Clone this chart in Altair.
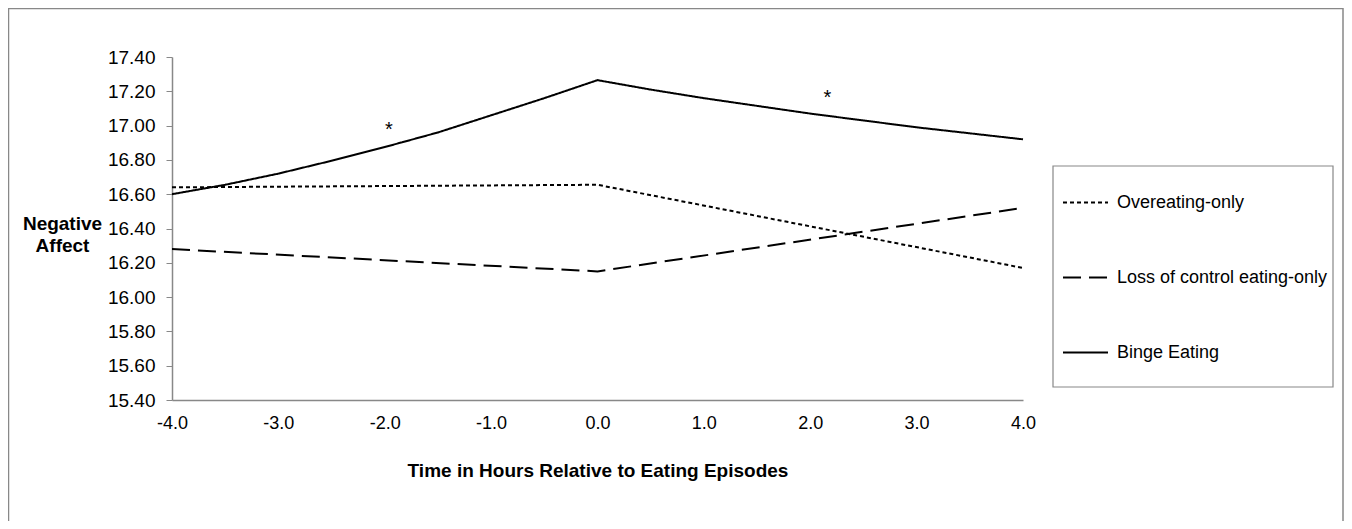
import altair as alt
import pandas as pd

# ---- data ----
series_names = ["Overeating-only", "Loss of control eating-only", "Binge Eating"]

over_hours = [-4.0, 0.0, 4.0]
over_vals = [16.64, 16.655, 16.17]

loc_hours = [-4.0, 0.0, 4.0]
loc_vals = [16.28, 16.15, 16.52]

binge_hours = [-4.0, -3.5, -3.0, -2.5, -2.0, -1.5, -1.0, -0.5, 0.0,
               0.5, 1.0, 1.5, 2.0, 2.5, 3.0, 3.5, 4.0]
binge_vals = [16.60, 16.655, 16.72, 16.795, 16.875, 16.96, 17.06, 17.16, 17.265,
              17.21, 17.16, 17.115, 17.07, 17.03, 16.99, 16.955, 16.92]

star_hours = [-1.96, 2.16]
star_vals = [16.99, 17.18]
star_text = ["*", "*"]

x_ticks = [-4.0, -3.0, -2.0, -1.0, 0.0, 1.0, 2.0, 3.0, 4.0]
y_ticks = [15.4, 15.6, 15.8, 16.0, 16.2, 16.4, 16.6, 16.8, 17.0, 17.2, 17.4]

rows = []
for h, v in zip(over_hours, over_vals):
    rows.append({"hour": h, "value": v, "group": series_names[0]})
for h, v in zip(loc_hours, loc_vals):
    rows.append({"hour": h, "value": v, "group": series_names[1]})
for h, v in zip(binge_hours, binge_vals):
    rows.append({"hour": h, "value": v, "group": series_names[2]})
df = pd.DataFrame(rows)

stars = pd.DataFrame({"hour": star_hours, "value": star_vals, "t": star_text})

FONT = "Liberation Sans"
GREY = "#888888"

x_scale = alt.Scale(domain=[-4, 4], nice=False, zero=False)
y_scale = alt.Scale(domain=[15.4, 17.4], nice=False, zero=False)

x_label_expr = "datum.value < 0 ? '-' + format(-datum.value, '.1f') : format(datum.value, '.1f')"

x_axis = alt.Axis(values=x_ticks, labelExpr=x_label_expr,
                  title="Time in Hours Relative to Eating Episodes",
                  ticks=False, grid=False, domainColor=GREY, domainWidth=1.5,
                  labelFont=FONT, labelFontSize=18, labelColor="black",
                  labelPadding=14, labelFlush=False, labelOverlap=False,
                  titleFont=FONT, titleFontSize=19, titleFontWeight="bold",
                  titleColor="black", titlePadding=29)
y_axis = alt.Axis(values=y_ticks, format=".2f", title=["Negative", "Affect"],
                  grid=False, domainColor=GREY, domainWidth=1.5,
                  tickColor=GREY, tickSize=6, tickWidth=1,
                  labelFont=FONT, labelFontSize=19, labelColor="black", labelPadding=11,
                  labelOverlap=False,
                  titleFont=FONT, titleFontSize=19, titleFontWeight="bold",
                  titleColor="black", titleAngle=0, titleAlign="center",
                  titleBaseline="top", titleX=-110, titleY=157, titleLineHeight=22)

lines = alt.Chart(df).mark_line(strokeWidth=2, color="black", clip=False).encode(
    x=alt.X("hour:Q", scale=x_scale, axis=x_axis),
    y=alt.Y("value:Q", scale=y_scale, axis=y_axis),
    strokeDash=alt.StrokeDash("group:N",
                              scale=alt.Scale(domain=series_names,
                                              range=[[4, 3], [18, 8], [1, 0]]),
                              legend=alt.Legend(title=None, orient="none", legendX=890, legendY=122,
                                                symbolType="stroke", symbolSize=2025,
                                                symbolStrokeWidth=2, symbolStrokeColor="black",
                                                labelFont=FONT, labelFontSize=18, labelColor="black",
                                                labelOffset=8, rowPadding=42, padding=0,
                                                labelLimit=400)),
    detail="group:N",
    order="hour:Q",
)

star_marks = alt.Chart(stars).mark_text(font=FONT, fontSize=20, color="black",
                                        baseline="middle", dy=3).encode(
    x=alt.X("hour:Q", scale=x_scale, axis=x_axis),
    y=alt.Y("value:Q", scale=y_scale, axis=y_axis),
    text="t:N",
)

frame = pd.DataFrame({"k": [0]})

border = alt.Chart(frame).mark_rect(
    fill="transparent", stroke=GREY, strokeWidth=1.5, clip=False
).encode(
    x=alt.value(-163.5), x2=alt.value(1171), y=alt.value(-48.5), y2=alt.value(520)
)

legend_box = alt.Chart(frame).mark_rect(
    fill="white", stroke=GREY, strokeWidth=1.2, clip=False
).encode(
    x=alt.value(881), x2=alt.value(1161), y=alt.value(109), y2=alt.value(330)
)

chart = alt.layer(border, legend_box, lines, star_marks).properties(
    width=851, height=343,
    autosize=alt.AutoSizeParams(type="none"),
    padding={"left": 164, "top": 49, "right": 321, "bottom": 121},
    background="white",
).configure_view(strokeWidth=0).configure_axis(labelOverlap=False)

chart.save("out.html", embed_options={"renderer": "svg", "actions": False})
